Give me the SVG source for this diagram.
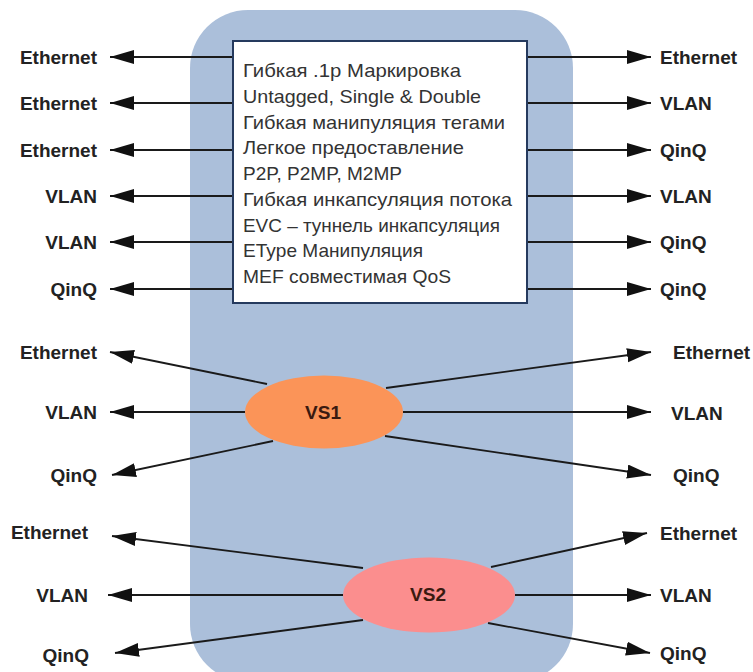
<svg xmlns="http://www.w3.org/2000/svg" width="753" height="672" viewBox="0 0 753 672">
  <defs>
    <marker id="arrow" markerUnits="userSpaceOnUse" markerWidth="26" markerHeight="16" refX="24" refY="7" orient="auto">
      <path d="M0,0 L24,7 L0,14 z" fill="#111"/>
    </marker>
    <style>
      .link { stroke: #1a1a1a; stroke-width: 1.8; fill: none; marker-end: url(#arrow); }
      .lbl { font-family: "Liberation Sans", Arial, sans-serif; font-weight: bold; font-size: 19px; fill: #222; }
      .lbl-l { text-anchor: end; }
      .feat { font-family: "Liberation Sans", Arial, sans-serif; font-size: 18.5px; fill: #333; }
      .vs { font-family: "Liberation Sans", Arial, sans-serif; font-weight: bold; font-size: 19px; fill: #3a1a10; text-anchor: middle; }
    </style>
  </defs>

  <rect width="753" height="672" fill="#ffffff"/>

  <!-- switch body -->
  <g id="switch">
    <rect x="190" y="10" width="383" height="672" rx="58" ry="58" fill="#abbfda"/>
  </g>

  <!-- connectors -->
  <g id="connectors">
    <!-- feature box, left side -->
    <line class="link" x1="232" y1="57" x2="110" y2="57"/>
    <line class="link" x1="232" y1="103" x2="110" y2="103"/>
    <line class="link" x1="232" y1="150" x2="110" y2="150"/>
    <line class="link" x1="232" y1="196" x2="110" y2="196"/>
    <line class="link" x1="232" y1="242" x2="110" y2="242"/>
    <line class="link" x1="232" y1="289" x2="110" y2="289"/>
    <!-- feature box, right side -->
    <line class="link" x1="527" y1="57" x2="651" y2="57"/>
    <line class="link" x1="527" y1="103" x2="651" y2="103"/>
    <line class="link" x1="527" y1="150" x2="651" y2="150"/>
    <line class="link" x1="527" y1="196" x2="651" y2="196"/>
    <line class="link" x1="527" y1="242" x2="651" y2="242"/>
    <line class="link" x1="527" y1="289" x2="651" y2="289"/>
    <!-- VS1 -->
    <line class="link" x1="267" y1="384" x2="110" y2="352"/>
    <line class="link" x1="245" y1="412" x2="110" y2="412"/>
    <line class="link" x1="273" y1="441" x2="112" y2="475"/>
    <line class="link" x1="386" y1="388" x2="651" y2="352"/>
    <line class="link" x1="403" y1="412" x2="651" y2="412"/>
    <line class="link" x1="385" y1="436" x2="651" y2="475"/>
    <!-- VS2 -->
    <line class="link" x1="363" y1="568" x2="112" y2="536"/>
    <line class="link" x1="343" y1="595" x2="108" y2="595"/>
    <line class="link" x1="363" y1="620" x2="115" y2="653"/>
    <line class="link" x1="491" y1="567" x2="647" y2="533"/>
    <line class="link" x1="515" y1="595" x2="651" y2="595"/>
    <line class="link" x1="488" y1="623" x2="650" y2="653"/>
  </g>

  <!-- feature list -->
  <g id="features">
    <rect x="233" y="41" width="294" height="262" fill="#ffffff" stroke="#253a5e" stroke-width="2"/>
    <text class="feat" x="243" y="77" textLength="218" lengthAdjust="spacingAndGlyphs">Гибкая .1р Маркировка</text>
    <text class="feat" x="243" y="102.8" textLength="238" lengthAdjust="spacingAndGlyphs">Untagged, Single &amp; Double</text>
    <text class="feat" x="243" y="128.5" textLength="262" lengthAdjust="spacingAndGlyphs">Гибкая манипуляция тегами</text>
    <text class="feat" x="243" y="154.3" textLength="221" lengthAdjust="spacingAndGlyphs">Легкое предоставление</text>
    <text class="feat" x="243" y="180" textLength="159" lengthAdjust="spacingAndGlyphs">P2P, P2MP, M2MP</text>
    <text class="feat" x="243" y="205.8" textLength="269" lengthAdjust="spacingAndGlyphs">Гибкая инкапсуляция потока</text>
    <text class="feat" x="243" y="231.5" textLength="257" lengthAdjust="spacingAndGlyphs">EVC – туннель инкапсуляция</text>
    <text class="feat" x="243" y="257.3" textLength="180" lengthAdjust="spacingAndGlyphs">EType Манипуляция</text>
    <text class="feat" x="243" y="283" textLength="208" lengthAdjust="spacingAndGlyphs">MEF совместимая QoS</text>
  </g>

  <g id="vs1">
    <ellipse cx="324" cy="412" rx="79" ry="36.5" fill="#fb9458"/>
    <text class="vs" x="323" y="419">VS1</text>
  </g>

  <g id="vs2">
    <ellipse cx="429" cy="595" rx="86" ry="37.5" fill="#fb8e8e"/>
    <text class="vs" x="428" y="601">VS2</text>
  </g>

  <!-- port labels, left -->
  <g id="ports-left">
    <text class="lbl lbl-l" x="97" y="64">Ethernet</text>
    <text class="lbl lbl-l" x="97" y="110">Ethernet</text>
    <text class="lbl lbl-l" x="97" y="157">Ethernet</text>
    <text class="lbl lbl-l" x="97" y="203">VLAN</text>
    <text class="lbl lbl-l" x="97" y="249">VLAN</text>
    <text class="lbl lbl-l" x="97" y="296">QinQ</text>
    <text class="lbl lbl-l" x="97" y="359">Ethernet</text>
    <text class="lbl lbl-l" x="97" y="419">VLAN</text>
    <text class="lbl lbl-l" x="97" y="482">QinQ</text>
    <text class="lbl lbl-l" x="88" y="539">Ethernet</text>
    <text class="lbl lbl-l" x="88" y="602">VLAN</text>
    <text class="lbl lbl-l" x="89" y="662">QinQ</text>
  </g>

  <!-- port labels, right -->
  <g id="ports-right">
    <text class="lbl" x="660" y="64">Ethernet</text>
    <text class="lbl" x="660" y="110">VLAN</text>
    <text class="lbl" x="660" y="157">QinQ</text>
    <text class="lbl" x="660" y="203">VLAN</text>
    <text class="lbl" x="660" y="249">QinQ</text>
    <text class="lbl" x="660" y="296">QinQ</text>
    <text class="lbl" x="673" y="359">Ethernet</text>
    <text class="lbl" x="671" y="420">VLAN</text>
    <text class="lbl" x="673" y="482">QinQ</text>
    <text class="lbl" x="660" y="540">Ethernet</text>
    <text class="lbl" x="660" y="602">VLAN</text>
    <text class="lbl" x="660" y="660">QinQ</text>
  </g>
</svg>
